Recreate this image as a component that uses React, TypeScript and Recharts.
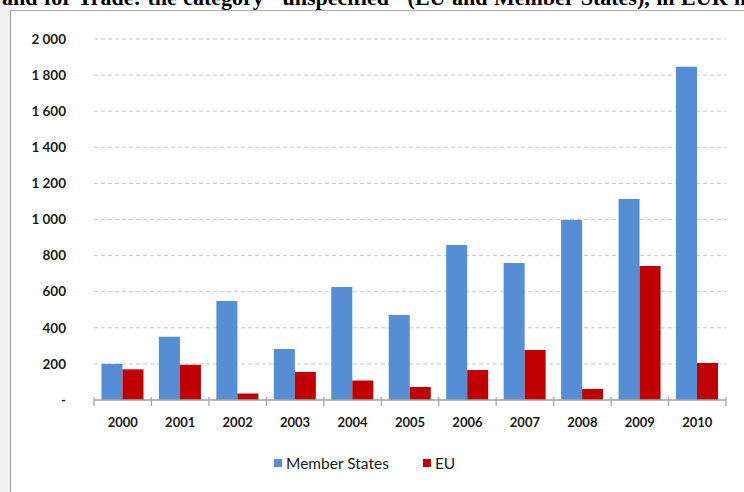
import React from 'react';
import { BarChart, Bar, XAxis, YAxis, CartesianGrid, Legend } from 'recharts';

const years = ['2000', '2001', '2002', '2003', '2004', '2005', '2006', '2007', '2008', '2009', '2010'];
const memberStates = [200, 350, 548, 283, 626, 471, 859, 759, 997, 1114, 1846];
const eu = [170, 195, 36, 155, 108, 72, 166, 277, 61, 742, 205];
const yTicks = [0, 200, 400, 600, 800, 1000, 1200, 1400, 1600, 1800, 2000];
const seriesNames = ['Member States', 'EU'];
const seriesColors = ['#558ED5', '#C00000'];
const titleText = 'and for Trade: the category "unspecified" (EU and Member States), in EUR million';

const data = years.map((y, i) => ({ year: y, ms: memberStates[i], eu: eu[i] }));

const FONT = 'Lato, "Open Sans", "Liberation Sans", sans-serif';
const AXIS = '#a6a6a6';

const fmtY = (v: number) => {
  if (v === 0) return '-';
  const s = String(v);
  return s.length > 3 ? s.slice(0, s.length - 3) + ' ' + s.slice(-3) : s;
};

const XTick = (props: any) => {
  const { x, y, payload, index } = props;
  const off = payload && payload.offset != null ? payload.offset : 28.7;
  const last = index === years.length - 1;
  return (
    <g>
      <line x1={x - off} x2={x - off} y1={y - 3} y2={y + 6} stroke={AXIS} strokeWidth={1.3} />
      {last && <line x1={x + off} x2={x + off} y1={y - 3} y2={y + 6} stroke={AXIS} strokeWidth={1.3} />}
      <text x={x} y={y + 27} textAnchor="middle" fill="#1a1a1a" fontFamily={FONT} fontWeight={700} fontSize={13}>
        {payload.value}
      </text>
    </g>
  );
};

const LegendContent = () => (
  <div style={{ display: 'flex', alignItems: 'center', fontFamily: FONT, fontSize: 15.5, color: '#1a1a1a' }}>
    {seriesNames.map((n, i) => (
      <div key={n} style={{ display: 'flex', alignItems: 'center', marginRight: 34 }}>
        <span style={{ display: 'inline-block', width: 8, height: 8, background: seriesColors[i], marginRight: 4 }} />
        <span>{n}</span>
      </div>
    ))}
  </div>
);

export default function App() {
  return (
    <div style={{ position: 'absolute', left: 0, top: 0, width: 744, height: 492, background: '#fff', overflow: 'hidden' }}>
      <div style={{ position: 'absolute', left: 0, top: 0, width: 10, height: 492, background: '#f0f0f0' }} />
      <div
        style={{
          position: 'absolute', left: 2, top: -15, whiteSpace: 'nowrap', wordSpacing: 1,
          fontFamily: '"Liberation Serif", "Times New Roman", serif', fontWeight: 700, fontSize: 22, color: '#000',
        }}
      >
        {titleText}
      </div>
      <div style={{ position: 'absolute', left: 10, top: 10, width: 734, height: 482, borderLeft: '1.5px solid #9a9a9a', borderTop: '1px solid #b0b0b0', boxSizing: 'border-box' }} />
      <div style={{ position: 'absolute', left: 0, top: 0 }}>
        <BarChart
          width={744}
          height={492}
          data={data}
          margin={{ top: 39, right: 18, left: 0, bottom: 42 }}
          barGap={0}
          barCategoryGap="13%"
        >
          <CartesianGrid vertical={false} stroke="#c8c8c8" strokeDasharray="4 3" />
          <YAxis
            width={94}
            domain={[0, 2000]}
            ticks={yTicks}
            interval={0}
            tickFormatter={fmtY}
            axisLine={false}
            tickLine={false}
            tickSize={0}
            tickMargin={28}
            tick={{ fill: '#1a1a1a', fontFamily: FONT, fontWeight: 700, fontSize: 13.5 }}
          />
          <XAxis
            dataKey="year"
            height={30}
            interval={0}
            tickLine={false}
            tickSize={0}
            tickMargin={0}
            axisLine={{ stroke: AXIS, strokeWidth: 1.5 }}
            tick={<XTick />}
          />
          <Legend
            verticalAlign="bottom"
            wrapperStyle={{ height: 20, top: 454, left: 274, bottom: 'auto', width: 'auto' }}
            content={<LegendContent />}
          />
          <Bar dataKey="ms" name={seriesNames[0]} fill={seriesColors[0]} isAnimationActive={false} />
          <Bar dataKey="eu" name={seriesNames[1]} fill={seriesColors[1]} isAnimationActive={false} />
        </BarChart>
      </div>
    </div>
  );
}
